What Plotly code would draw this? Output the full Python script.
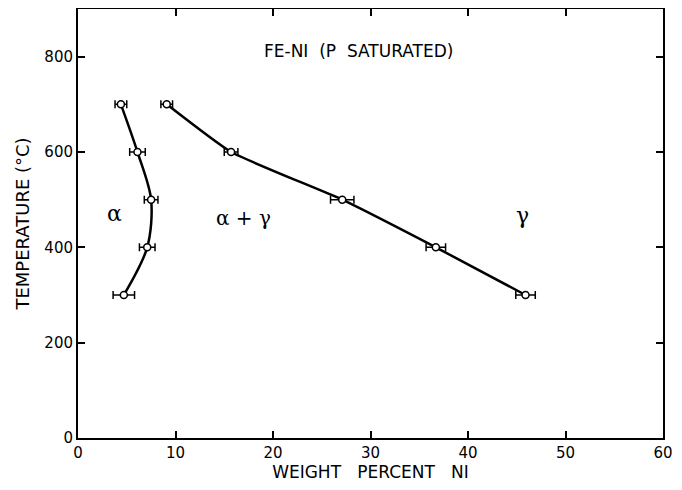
import plotly.graph_objects as go

# alpha / (alpha+gamma) boundary
alpha_ni = [4.4, 6.1, 7.5, 7.1, 4.7]
alpha_t = [700, 600, 500, 400, 300]
alpha_err = [0.6, 0.8, 0.7, 0.8, 1.1]

# gamma / (alpha+gamma) boundary
gamma_ni = [9.1, 15.7, 27.1, 36.7, 45.9]
gamma_t = [700, 600, 500, 400, 300]
gamma_err = [0.6, 0.7, 1.2, 1.0, 1.0]

x_ticks = [0, 10, 20, 30, 40, 50, 60]
y_ticks = [0, 200, 400, 600, 800]

FONT = "DejaVu Sans"

fig = go.Figure()
for xs, ys, es, sm in [(alpha_ni, alpha_t, alpha_err, 0.9),
                       (gamma_ni, gamma_t, gamma_err, 0.45)]:
    fig.add_trace(go.Scatter(
        x=xs, y=ys, mode="lines",
        line=dict(color="black", width=2.5, shape="spline", smoothing=sm),
        hoverinfo="skip", showlegend=False))
    fig.add_trace(go.Scatter(
        x=xs, y=ys, mode="markers",
        marker=dict(symbol="circle", size=7, color="white",
                    line=dict(color="black", width=1.5)),
        error_x=dict(type="data", array=es, color="black", thickness=1.5, width=4),
        showlegend=False))

fig.add_annotation(x=28.8, y=811, text="FE-NI  (P  SATURATED)", showarrow=False,
                   font=dict(family=FONT, size=17, color="black"))
fig.add_annotation(x=3.7, y=470, text="α", showarrow=False,
                   font=dict(family="DejaVu Serif", size=22, color="black"))
fig.add_annotation(x=17.0, y=462, text="α + γ", showarrow=False,
                   font=dict(family="DejaVu Serif", size=20, color="black"))
fig.add_annotation(x=45.6, y=466, text="γ", showarrow=False,
                   font=dict(family="DejaVu Serif", size=22, color="black"))

axis_common = dict(showgrid=False, zeroline=False, showline=True, linecolor="black",
                   linewidth=2, mirror="allticks", ticks="inside", ticklen=7,
                   tickwidth=1.5, tickcolor="black", automargin=False,
                   tickfont=dict(family=FONT, size=15, color="black"))

fig.update_xaxes(range=[0, 60], tickvals=x_ticks, ticktext=[str(v) for v in x_ticks],
                 title=dict(text="WEIGHT   PERCENT   NI", standoff=10,
                            font=dict(family=FONT, size=17, color="black")),
                 **axis_common)
fig.update_yaxes(range=[0, 900], tickvals=y_ticks, ticktext=[str(v) for v in y_ticks],
                 title=dict(text="TEMPERATURE (°C)", standoff=10,
                            font=dict(family=FONT, size=18, color="black")),
                 **axis_common)

# page body has an 8px default margin; size figure so the plot area lands where the reference has it
fig.update_layout(width=674, height=474, margin=dict(l=70, r=19, t=1, b=44),
                  plot_bgcolor="white", paper_bgcolor="white", showlegend=False)

fig.write_html("out.html")
